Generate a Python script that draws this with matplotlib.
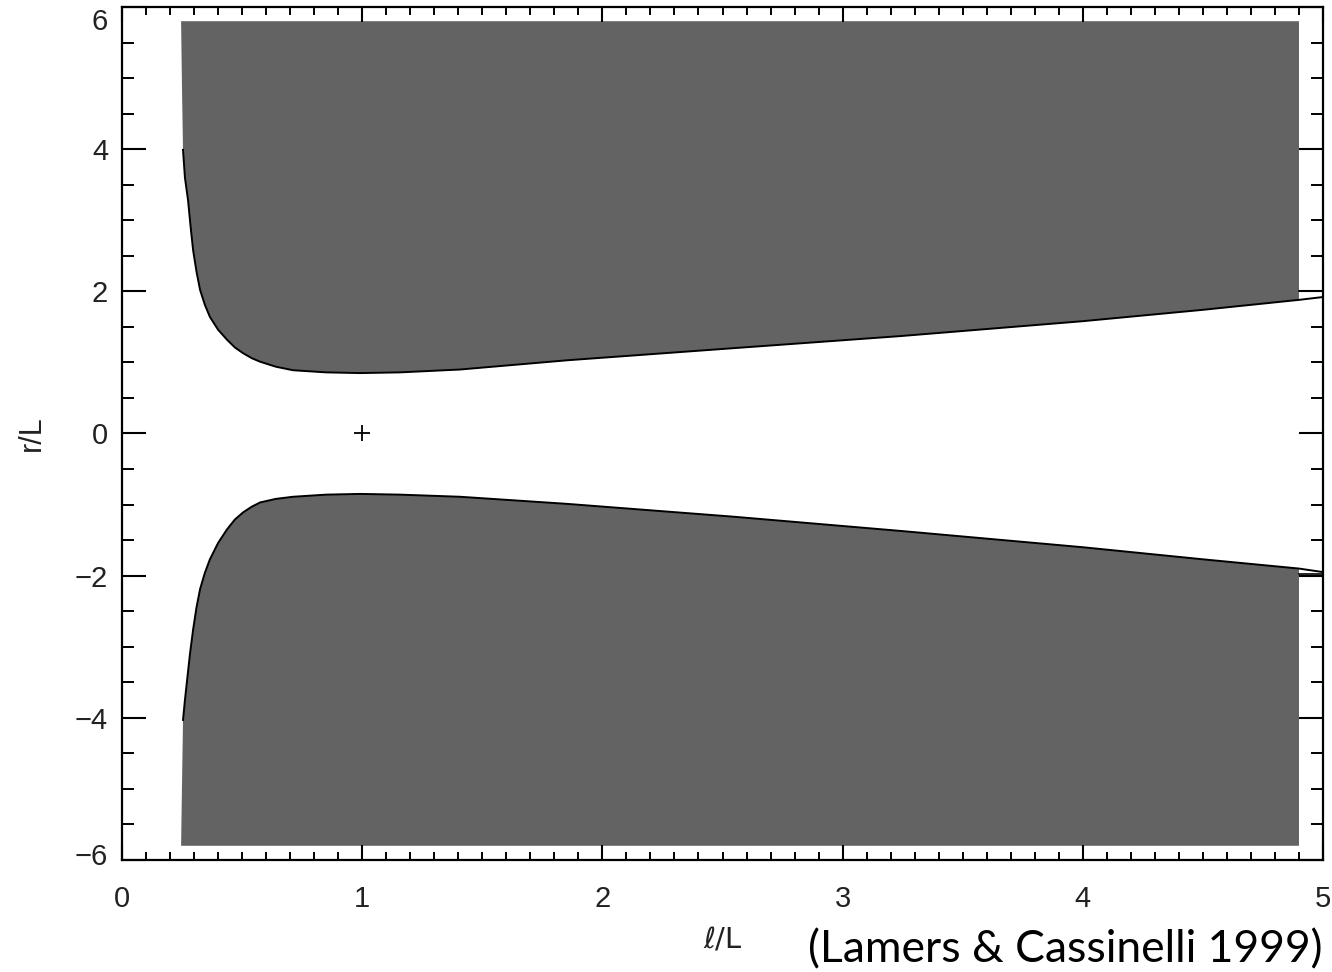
import numpy as np
import matplotlib
matplotlib.use("Agg")
import matplotlib.pyplot as plt
import matplotlib.transforms as mtrans
from matplotlib.ticker import MultipleLocator

# ---- data ----
upper_l = [0.246, 0.250, 0.254, 0.262, 0.275, 0.285, 0.296, 0.310, 0.325, 0.345,
           0.366, 0.400, 0.437, 0.470, 0.504, 0.540, 0.575, 0.640, 0.712, 0.850,
           0.991, 1.157, 1.407, 1.853, 2.544, 3.239, 4.000, 4.500, 4.900, 5.000]
upper_r = [5.80, 4.80, 3.99, 3.60, 3.28, 2.93, 2.58, 2.28, 2.02, 1.81,
           1.64, 1.46, 1.32, 1.21, 1.13, 1.06, 1.01, 0.94, 0.89, 0.86,
           0.85, 0.86, 0.90, 1.03, 1.20, 1.37, 1.58, 1.74, 1.88, 1.92]
lower_l = [0.246, 0.250, 0.254, 0.262, 0.271, 0.283, 0.296, 0.310, 0.325, 0.345,
           0.366, 0.400, 0.437, 0.470, 0.504, 0.540, 0.575, 0.640, 0.712, 0.850,
           0.991, 1.157, 1.407, 1.853, 2.544, 3.239, 4.000, 4.500, 4.900, 5.000]
lower_r = [-5.80, -4.90, -4.03, -3.75, -3.47, -3.10, -2.76, -2.45, -2.19, -1.96,
           -1.77, -1.54, -1.35, -1.21, -1.11, -1.03, -0.97, -0.92, -0.89, -0.86,
           -0.85, -0.86, -0.89, -0.99, -1.17, -1.37, -1.60, -1.77, -1.90, -1.95]
fill_l_max = 4.9
fill_r_max = 5.8
cross_l, cross_r = [1.0], [0.0]
xticks = [0, 1, 2, 3, 4, 5]
yticks = [-6, -4, -2, 0, 2, 4, 6]

fig = plt.figure(figsize=(13.32, 9.72), dpi=100)
ax = fig.add_axes([122/1332, 1 - 860/972, (1323-122)/1332, (860-7)/972])

ul = np.array(upper_l); ur = np.array(upper_r)
ll = np.array(lower_l); lr = np.array(lower_r)
m = ul <= fill_l_max
grey = "#636363"
ax.fill(np.r_[ul[m], fill_l_max, ul[0]], np.r_[ur[m], fill_r_max, fill_r_max],
        color=grey, lw=0, zorder=1)
m2 = ll <= fill_l_max
ax.fill(np.r_[ll[m2], fill_l_max, ll[0]], np.r_[lr[m2], -fill_r_max, -fill_r_max],
        color=grey, lw=0, zorder=1)

# boundary curves
ax.plot(ul[2:], ur[2:], color="black", lw=1.4, zorder=2)
ax.plot(ll[2:], lr[2:], color="black", lw=1.4, zorder=2)
ax.plot([fill_l_max, 5.0], [2.0, 2.0], color="black", lw=1.2, zorder=2)
ax.plot([fill_l_max, 5.0], [-1.98, -1.98], color="black", lw=1.2, zorder=2)

ax.plot(cross_l, cross_r, marker="+", color="black", ms=12, mew=1.3, ls="none")

ax.set_xlim(0, 5)
ax.set_ylim(-6, 6)
ax.set_xticks(xticks)
ax.set_yticks(yticks)
ax.set_xticklabels([str(t) for t in xticks])
ax.set_yticklabels([("\u2212" + str(-t)) if t < 0 else str(t) for t in yticks])
ax.xaxis.set_minor_locator(MultipleLocator(0.1))
ax.yaxis.set_minor_locator(MultipleLocator(0.5))

for s in ax.spines.values():
    s.set_linewidth(1.6)
ax.tick_params(axis="x", which="major", direction="in", length=11, width=1.5,
               top=True, bottom=True, pad=18, labelsize=21, labelcolor="#222222")
ax.tick_params(axis="x", which="minor", direction="in", length=6, width=1.4,
               top=True, bottom=True)
ax.tick_params(axis="y", which="major", direction="in", length=17, width=1.5,
               left=True, right=True, pad=10, labelsize=21, labelcolor="#222222")
ax.tick_params(axis="y", which="minor", direction="in", length=8.5, width=1.4,
               left=True, right=True)
for lab in ax.get_xticklabels() + ax.get_yticklabels():
    lab.set_family("Liberation Sans")

# keep the end labels inside the frame like the reference
ylabs = ax.get_yticklabels()
ylabs[-1].set_transform(ylabs[-1].get_transform() +
                        mtrans.ScaledTranslation(0, -12/100, fig.dpi_scale_trans))
ylabs[0].set_transform(ylabs[0].get_transform() +
                       mtrans.ScaledTranslation(0, 6/100, fig.dpi_scale_trans))

ax.set_xlabel("\u2113/L", fontsize=21, family="DejaVu Sans", labelpad=10, color="#222222")
ax.set_ylabel("r/L", fontsize=22, family="Liberation Sans", labelpad=20, color="#222222")

fig.text(1322/1332, 1 - 962/972, "(Lamers & Cassinelli 1999)", fontsize=32,
         family="Lato", ha="right", va="baseline", color="black")

fig.savefig("out.png", dpi=100)
